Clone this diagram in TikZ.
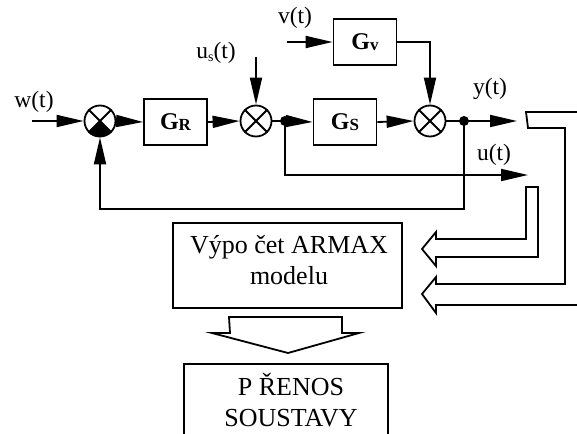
\documentclass[tikz,border=0pt]{standalone}
\usepackage{fontspec}
\setmainfont{Liberation Serif}
\usetikzlibrary{arrows.meta}
\newcommand{\lblfont}{\fontsize{23.5}{26}\selectfont}
\newcommand{\boxfont}{\fontsize{26}{31}\selectfont}
\newcommand{\gfont}{\fontsize{24}{26}\selectfont\bfseries}
\newcommand{\gsub}[1]{\raisebox{-1.5pt}{\fontsize{17}{17}\selectfont\bfseries #1}}
\begin{document}
\begin{tikzpicture}[x=1pt,y=-1pt,
  line width=1.8pt,
  gbox/.style={draw, line width=1.8pt, minimum width=63pt, minimum height=46pt, inner sep=0pt, font=\gfont},
  sumj/.style={circle, draw, line width=1.8pt, minimum size=31pt, inner sep=0pt},
  jdot/.style={circle, fill, inner sep=0pt, minimum size=10pt},
  arr/.style={-{Triangle[length=27pt,width=12pt]}, line width=1.8pt},
  lbl/.style={font=\lblfont, inner sep=0pt},
  bigtext/.style={font=\boxfont, align=center, inner sep=0pt},
  hollow/.style={line width=1.8pt, line join=miter}
]
\path[use as bounding box] (0,0) rectangle (577,433);
\clip (0,0) rectangle (577,433);

% summing junctions
\node[sumj] (s1) at (100,121) {};
\node[sumj] (s2) at (256,121) {};
\node[sumj] (s3) at (430,121) {};
\foreach \s in {s1,s2,s3}{
  \draw (\s.45) -- (\s.225);
  \draw (\s.135) -- (\s.315);
}
\fill (s1.center) -- (s1.225) arc[start angle=225, end angle=315, radius=15.5pt] -- cycle;

% blocks
\node[gbox] (GR) at (175.5,122) {G\gsub{R}};
\node[gbox] (GS) at (345,122) {G\gsub{S}};
\node[gbox] (Gv) at (365,42) {G\gsub{v}};

% junction dots
\node[jdot] (d1) at (285,121) {};
\node[jdot] (d2) at (464,121) {};

% free ends
\coordinate (win) at (32,121);
\coordinate (usin) at (256,57);
\coordinate (vin) at (287,42);
\coordinate (yout) at (517,121);
\coordinate (uout) at (528,175);
\coordinate (fb) at (100,209);

% labels
\node[lbl] (wl) at (34,102) {w(t)};
\node[lbl] (usl) at (216,53) {u\raisebox{-3pt}{\fontsize{14}{14}\selectfont s}(t)};
\node[lbl] (vl) at (295,18) {v(t)};
\node[lbl] (yl) at (490,89) {y(t)};
\node[lbl] (ul) at (494,155) {u(t)};

% connectors
\draw[arr] (win) -- (s1.west);
\draw[arr] (s1.east) -- (GR.west);
\draw[arr] (GR.east) -- (s2.west);
\draw[arr] (usin) -- (s2.north);
\draw (s2.east) -- (d1.center);
\draw[arr] (d1.center) -- (GS.west);
\draw[arr] (GS.east) -- (s3.west);
\draw[arr] (vin) -- (Gv.west);
\draw[arr] (Gv.east) -| (s3.north);
\draw (s3.east) -- (d2.center);
\draw[arr] (d2.center) -- (yout);
\draw[arr] (d2.center) |- (fb) -- (s1.south);
\draw[arr] (d1.center) |- (uout);

% ARMAX box
\node[draw, line width=1.8pt, minimum width=229pt, minimum height=85pt, inner sep=0pt] (armax) at (287.5,265.5) {};
\node[bigtext] (armaxt) at (289,260) {Výpo čet ARMAX\\modelu};

% transfer box (bottom edge outside the picture)
\node[draw, line width=1.8pt, minimum width=204pt, minimum height=120pt, inner sep=0pt, anchor=north] (pren) at (286,363) {};
\node[bigtext] (prent) at (291,400) {P ŘENOS\\SOUSTAVY};

% hollow arrows
\draw[hollow] (526,187) -- (538,187) -- (538,257) -- (436,257) -- (436,266) -- (422,249) -- (436,232) -- (436,239) -- (526,239) -- cycle;
\draw[hollow] (580,112) -- (526,112) -- (528,128) -- (565,128) -- (565,284) -- (436,284) -- (436,277) -- (422,294) -- (436,313) -- (436,305) -- (580,305);
\draw[hollow] (229,317) -- (342,317) -- (342,333) -- (359,333) -- (288,353) -- (212,333) -- (230,333) -- cycle;
\end{tikzpicture}
\end{document}
